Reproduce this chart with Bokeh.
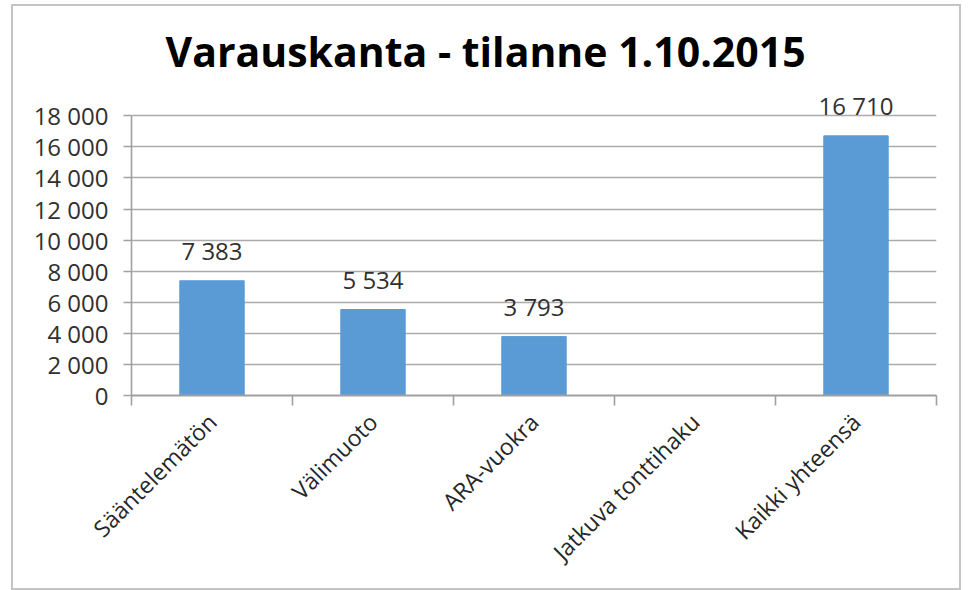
from bokeh.plotting import figure
from bokeh.models import ColumnDataSource, Range1d, LinearAxis, FixedTicker, LabelSet
from bokeh.core.properties import value
from bokeh.embed import file_html
from bokeh.resources import INLINE
import math

# ---- data ----
categories = ["Sääntelemätön", "Välimuoto", "ARA-vuokra", "Jatkuva tonttihaku", "Kaikki yhteensä"]
values = [7383, 5534, 3793, 0, 16710]
y_ticks = [0, 2000, 4000, 6000, 8000, 10000, 12000, 14000, 16000, 18000]
y_tick_labels = ["0", "2 000", "4 000", "6 000", "8 000", "10 000", "12 000", "14 000", "16 000", "18 000"]
title_text = "Varauskanta - tilanne 1.10.2015"


def fmt(v):
    return "" if v == 0 else f"{v:,}".replace(",", " ")


n = len(categories)
centers = [i + 0.5 for i in range(n)]          # category slot centres
bounds = list(range(n + 1))                     # category slot boundaries
value_labels = [fmt(v) for v in values]
y_axis_max = y_ticks[-1]
y_view_max = 19500                              # headroom so the top value label is not clipped

source = ColumnDataSource(dict(x=centers, val=values, lab=value_labels))

FONT = "Open Sans"
GRID = "#ababab"
AXIS = "#a0a0a0"
TXT = "#303030"

p = figure(width=950, height=586, x_range=Range1d(0, n), y_range=Range1d(0, y_view_max),
           output_backend="svg", toolbar_location=None, x_axis_location=None, y_axis_location=None,
           min_border_left=118, min_border_right=27, min_border_top=86, min_border_bottom=197)
p.styles = {"border": "2px solid #c4c4c4", "margin-left": "11px", "margin-top": "4px"}
p.outline_line_color = None
p.background_fill_color = "white"
p.border_fill_color = "white"

# title
p.title.text = title_text
p.title.text_font = FONT
p.title.text_font_style = "bold"
p.title.text_font_size = "41px"
p.title.text_color = "black"
p.title.align = "left"
p.title.offset = 34
p.title.standoff = 28

# grid
p.xgrid.grid_line_color = None
p.ygrid.ticker = FixedTicker(ticks=y_ticks)
p.ygrid.grid_line_color = GRID
p.ygrid.grid_line_width = 1.6

# y axis
yax = LinearAxis(ticker=FixedTicker(ticks=y_ticks, minor_ticks=[]), bounds=(0, y_axis_max),
                 major_label_overrides={t: l for t, l in zip(y_ticks, y_tick_labels)})
yax.axis_line_color = AXIS
yax.axis_line_width = 1.6
yax.major_tick_line_color = AXIS
yax.major_tick_line_width = 1.6
yax.major_tick_out = 8
yax.major_tick_in = 0
yax.minor_tick_line_color = None
yax.major_label_text_font = FONT
yax.major_label_text_font_size = "24px"
yax.major_label_text_color = TXT
yax.major_label_standoff = 15
p.add_layout(yax, "left")

# x axis: labels at slot centres, tick marks at slot boundaries
xax = LinearAxis(ticker=FixedTicker(ticks=centers, minor_ticks=bounds),
                 major_label_overrides={c: name for c, name in zip(centers, categories)})
xax.axis_line_color = AXIS
xax.axis_line_width = 2
xax.major_tick_line_color = None
xax.minor_tick_line_color = AXIS
xax.minor_tick_line_width = 1.6
xax.minor_tick_out = 10
xax.minor_tick_in = 0
xax.major_tick_out = 10
xax.major_label_orientation = math.pi / 4
xax.major_label_text_font = FONT
xax.major_label_text_font_size = "23px"
xax.major_label_text_color = "#262626"
xax.major_label_standoff = 12
p.add_layout(xax, "below")

# bars
p.vbar(x="x", top="val", width=0.4, bottom=0, source=source,
       fill_color="#5b9bd5", line_color="#5b9bd5")

labels = LabelSet(x="x", y="val", text="lab", source=source, text_align="center",
                  text_baseline="bottom", y_offset=14, text_font=value(FONT),
                  text_font_size=value("24px"), text_color=TXT)
p.add_layout(labels)

open("out.html", "w").write(file_html(p, INLINE))
